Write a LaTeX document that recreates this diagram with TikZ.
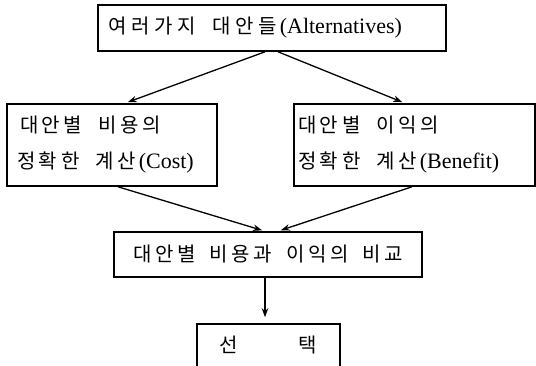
\documentclass[tikz,border=0pt]{standalone}
\usepackage{fontspec}
\setmainfont{Liberation Serif}
\newfontfamily\ko{Noto Sans CJK KR}[LetterSpace=18]
\newfontfamily\kow{Noto Sans CJK KR}[LetterSpace=24]
\usetikzlibrary{arrows.meta}
\tikzset{
  box/.style={draw, line width=1.6pt, rectangle, inner sep=0pt, font=\fontsize{22}{36}\selectfont},
  arr/.style={line width=1.3pt, -{Stealth[length=9pt,width=6.5pt]}},
}
\newcommand{\kt}[1]{{\ko\fontsize{20}{36}\selectfont #1}}
\newcommand{\ktw}[1]{{\kow\fontsize{20}{36}\selectfont #1}}
\newcommand{\kg}{\hspace{16pt}}
\begin{document}
\begin{tikzpicture}[x=1pt,y=-1pt]
\useasboundingbox (0,0) rectangle (536,366);
\clip (0,0) rectangle (536,366);
\node[box, minimum width=348pt, minimum height=46pt, text width=328pt, align=left] (top) at (272,28)
  {\ktw{여러가지\hspace{16pt}대안들}\hspace{3pt}(Alternatives)};
\node[box, minimum width=210pt, minimum height=82pt, text width=190pt, align=left] (left) at (112,145)
  {\hspace*{3pt}\kt{대안별\kg 비용의}\\\kt{정확한\kg 계산}\hspace{3pt}(Cost)};
\node[box, minimum width=241pt, minimum height=82pt, text width=233pt, align=left] (right) at (414.5,145)
  {\kt{대안별\kg 이익의}\\\kt{정확한\kg 계산}\hspace{3pt}(Benefit)};
\node[box, minimum width=308pt, minimum height=45pt] (mid) at (268,254.5)
  {\kt{대안별\hspace{14pt}비용과\hspace{14pt}이익의\hspace{14pt}비교}};
\node[box, minimum width=143pt, minimum height=60pt] (bot) at (268.5,354)
  {};
\node (botlbl) at (268,345) {\kt{선\hspace{60pt}택}};
\draw[arr, shorten >=3pt] ([xshift=-7pt]top.south) -- ([xshift=13pt]left.north);
\draw[arr, shorten >=3pt] ([xshift=6pt]top.south) -- ([xshift=-9.5pt]right.north);
\draw[arr, shorten >=3pt] ([xshift=6pt]left.south) -- ([xshift=-3pt]mid.north);
\draw[arr, shorten >=3pt] ([xshift=-2.5pt]right.south) -- ([xshift=10pt]mid.north);
\draw[arr, shorten >=6pt] ([xshift=-3pt]mid.south) -- ([xshift=-3.5pt]bot.north);
\end{tikzpicture}
\end{document}
